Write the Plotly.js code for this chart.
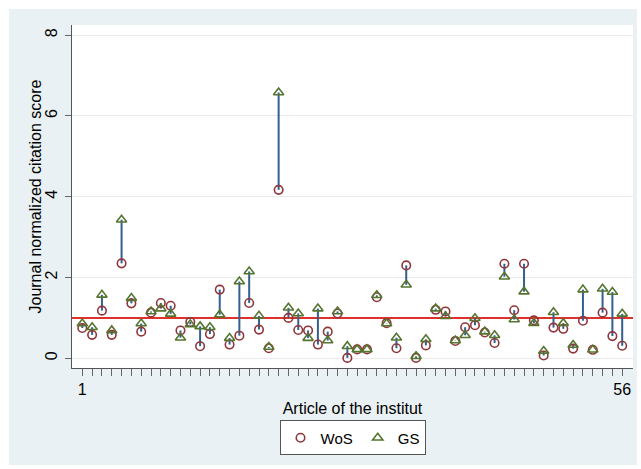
<!DOCTYPE html>
<html>
<head>
<meta charset="utf-8">
<script src="https://cdn.plot.ly/plotly-3.0.1.min.js"></script>
<style>
html, body { margin: 0; padding: 0; background: #ffffff; }
#chart { position: absolute; left: 9px; top: 9px; width: 628px; height: 456px; }
</style>
</head>
<body>
<div id="chart"></div>
<script>
const articles = [1,2,3,4,5,6,7,8,9,10,11,12,13,14,15,16,17,18,19,20,21,22,23,24,25,26,27,28,
  29,30,31,32,33,34,35,36,37,38,39,40,41,42,43,44,45,46,47,48,49,50,51,52,53,54,55,56];
const wos = [0.75,0.58,1.18,0.58,2.35,1.36,0.66,1.13,1.37,1.30,0.69,0.90,0.30,0.60,1.70,0.34,0.56,1.37,0.71,0.25,
  4.17,1.00,0.70,0.69,0.34,0.66,1.11,0.01,0.22,0.22,1.51,0.87,0.25,2.30,0.01,0.32,1.20,1.16,0.43,0.77,
  0.82,0.64,0.38,2.34,1.19,2.34,0.94,0.07,0.76,0.73,0.24,0.93,0.21,1.13,0.55,0.31];
const gs = [0.86,0.77,1.57,0.69,3.43,1.49,0.86,1.16,1.23,1.10,0.51,0.84,0.79,0.77,1.08,0.50,1.90,2.15,1.05,0.28,
  6.58,1.25,1.11,0.50,1.23,0.44,1.16,0.30,0.22,0.22,1.56,0.86,0.51,1.82,0.05,0.47,1.23,1.04,0.44,0.57,
  0.99,0.66,0.57,2.02,0.96,1.65,0.87,0.18,1.14,0.87,0.33,1.70,0.21,1.72,1.64,1.10];
const xTickLabels = {1: "1", 56: "56"};
const yTicks = [0, 2, 4, 6, 8];
const refValue = 1;
const seriesNames = ["WoS", "GS"];
const xTitle = "Article of the institut";
const yTitle = "Journal normalized citation score";

const segX = [], segY = [];
articles.forEach((a, i) => { segX.push(a, a, null); segY.push(wos[i], gs[i], null); });

const font = "Liberation Sans, Arial, sans-serif";
const traces = [
  { x: segX, y: segY, mode: "lines", type: "scatter", showlegend: false, hoverinfo: "skip",
    line: { color: "#33608f", width: 2 } },
  { x: articles, y: wos, name: seriesNames[0], mode: "markers", type: "scatter",
    marker: { symbol: "circle-open", size: 8.5, color: "#90353b", line: { width: 1.6, color: "#90353b" } } },
  { x: articles, y: gs, name: seriesNames[1], mode: "markers", type: "scatter",
    marker: { symbol: "triangle-up-open", size: 9, color: "#55752f", line: { width: 1.6, color: "#55752f" } } }
];

const layout = {
  width: 628, height: 456,
  margin: { l: 63, r: 4, t: 16, b: 97 },
  paper_bgcolor: "#eaf1f4",
  plot_bgcolor: "#ffffff",
  font: { family: font, size: 16, color: "#000000" },
  showlegend: true,
  legend: {
    orientation: "h", x: 0.5, xanchor: "center", y: -0.153, yanchor: "top",
    bgcolor: "#ffffff", bordercolor: "#555555", borderwidth: 1,
    font: { family: font, size: 15, color: "#000000" }, itemwidth: 30
  },
  xaxis: {
    range: [-0.05, 57.1],
    tickmode: "array",
    tickvals: articles,
    ticktext: articles.map(a => xTickLabels[a] || ""),
    ticks: "outside", ticklen: 7, tickcolor: "#666666", tickwidth: 1,
    showline: true, linecolor: "#555555", linewidth: 1,
    showgrid: false, zeroline: false,
    tickfont: { family: font, size: 16 },
    title: { text: xTitle, font: { family: font, size: 16 }, standoff: 5 }
  },
  yaxis: {
    range: [-0.24, 8.25],
    tickmode: "array", tickvals: yTicks, ticktext: yTicks.map(String),
    tickangle: -90,
    ticks: "outside", ticklen: 6, tickcolor: "#666666", tickwidth: 1,
    ticklabelstandoff: 2,
    showline: true, linecolor: "#555555", linewidth: 1,
    showgrid: true, gridcolor: "#eaeaea", gridwidth: 1, zeroline: false,
    tickfont: { family: font, size: 16 }
  },
  annotations: [
    { text: yTitle, xref: "paper", yref: "paper", x: 0, y: 0.5, xanchor: "center", yanchor: "middle",
      xshift: -37, textangle: -90, showarrow: false, font: { family: font, size: 16, color: "#000000" } }
  ],
  shapes: [
    { type: "line", xref: "paper", x0: 0, x1: 1, yref: "y", y0: refValue, y1: refValue,
      line: { color: "#e0302a", width: 2 }, layer: "between" }
  ]
};

Plotly.newPlot("chart", traces, layout, { displayModeBar: false, staticPlot: true });
</script>
</body>
</html>
